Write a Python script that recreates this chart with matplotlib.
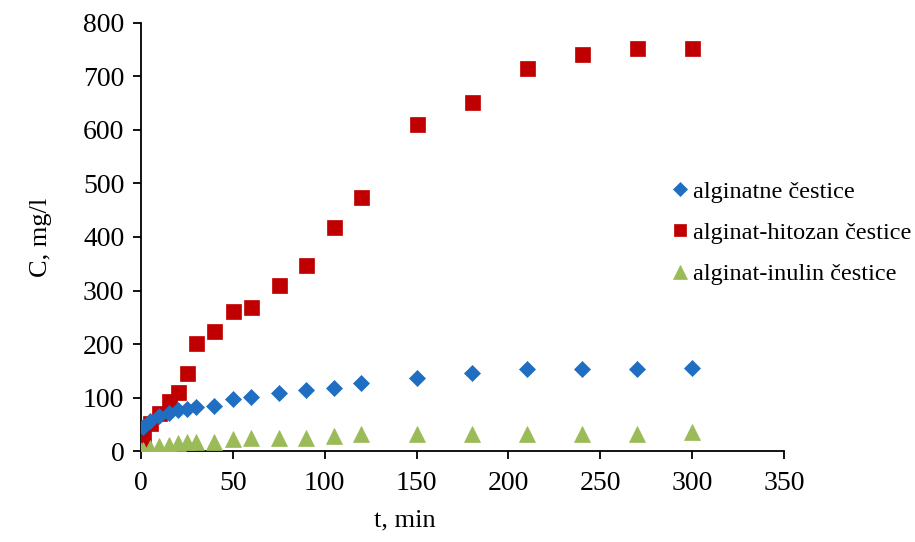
import matplotlib
matplotlib.use("Agg")
import matplotlib.pyplot as plt

plt.rcParams['font.family'] = ['Liberation Serif', 'DejaVu Serif']

t = [0, 1, 5, 10, 15, 20, 25, 30, 40, 50, 60, 75, 90, 105, 120, 150, 180, 210, 240, 270, 300]
alginatne = [3, 45, 57, 65, 72, 77, 79, 82, 85, 97, 101, 109, 115, 119, 127, 137, 146, 153, 153, 153, 156]
hitozan = [5, 30, 52, 72, 93, 111, 147, 202, 225, 262, 269, 310, 348, 418, 474, 611, 652, 715, 742, 752, 752]
inulin = [1, 3, 6, 9, 12, 15, 17, 18, 18, 23, 25, 25, 24, 28, 32, 33, 33, 33, 33, 33, 36]

labels = ['alginatne čestice', 'alginat-hitozan čestice', 'alginat-inulin čestice']
xticks = [0, 50, 100, 150, 200, 250, 300, 350]
yticks = [0, 100, 200, 300, 400, 500, 600, 700, 800]

fig = plt.figure(figsize=(9.15, 5.42), dpi=100)
ax = fig.add_axes([141/915, (542-451.3)/542, (784-141)/915, (451.3-22.5)/542])

ax.plot(t, alginatne, linestyle='none', marker='D', ms=8.5, color='#1F6EC2', mec='#1F6EC2', mew=0.5, label=labels[0], zorder=3)
ax.plot(t, hitozan, linestyle='none', marker='s', ms=10.8, color='#C00000', mec='#C00000', mew=0.5, label=labels[1], zorder=2)
ax.plot(t, inulin, linestyle='none', marker='^', ms=12, color='#9BBB59', mec='#9BBB59', mew=0.5, label=labels[2], zorder=4)

ax.set_xlim(0, 350)
ax.set_ylim(0, 800)
ax.set_xticks(xticks)
ax.set_yticks(yticks)
ax.spines['top'].set_visible(False)
ax.spines['right'].set_visible(False)
for s in ('left', 'bottom'):
    ax.spines[s].set_linewidth(1.3)
ax.tick_params(axis='both', direction='out', length=6, width=1.3, labelsize=20)
ax.tick_params(axis='y', pad=6)
ax.tick_params(axis='x', pad=8)
ax.patch.set_visible(False)
for sp in ax.spines.values():
    sp.set_zorder(1)

ax.set_xlabel('t, min', fontsize=19)
ax.xaxis.set_label_coords((405-141)/643, -0.135)
ax.set_ylabel('C, mg/l', fontsize=19)
ax.yaxis.set_label_coords((52-141)/643, 0.50)

leg = ax.legend(loc='center left', bbox_to_anchor=((657-141)/643, (451.3-233)/428.8),
                frameon=False, fontsize=17.5, markerscale=0.8, handletextpad=0.1,
                labelspacing=0.8, handlelength=0.9, borderpad=0)

fig.savefig('out.png', dpi=100)
